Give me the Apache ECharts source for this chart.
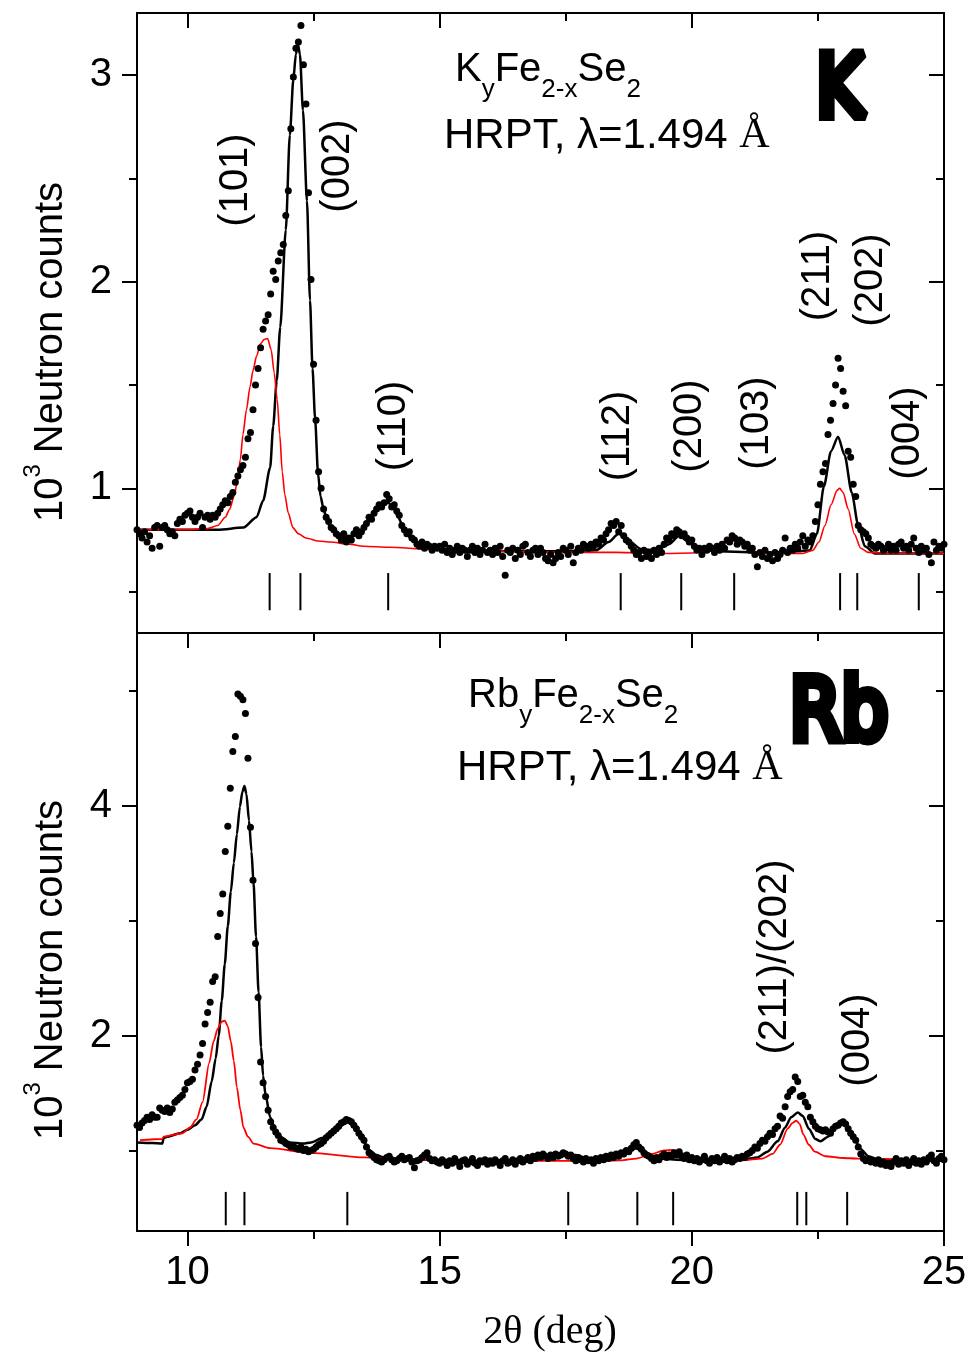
<!DOCTYPE html>
<html><head><meta charset="utf-8">
<script src="https://cdn.jsdelivr.net/npm/echarts@6/dist/echarts.min.js"></script>
<style>html,body{margin:0;padding:0;background:#fff}#c{width:973px;height:1354px}</style>
</head><body><div id="c"></div>
<script>
// ---------- DATA ----------
const TTH_START = 9.0;   // 2θ of first observed point (deg)
const TTH_STEP = 0.05;   // 2θ step of observed points (deg)

// K_yFe_{2-x}Se_2 observed counts (10^3), 9.00 .. 25.00
const K_OBS = [
 0.80,0.78,0.76,0.79,0.74,0.77,0.71,0.81,0.82,0.72,0.81,0.82,0.80,0.78,0.79,0.77,0.83,0.85,0.84,0.87,
 0.88,0.89,0.86,0.84,0.86,0.88,0.81,0.86,0.87,0.85,0.87,0.86,0.88,0.90,0.92,0.94,0.93,0.96,0.98,1.03,
 1.06,1.09,1.11,1.15,1.24,1.27,1.38,1.50,1.58,1.68,1.77,1.81,1.84,1.94,2.05,2.01,2.10,2.14,2.18,2.32,
 2.44,2.74,2.99,3.13,3.16,3.24,3.05,2.86,2.43,2.01,1.60,1.33,1.08,1.00,0.90,0.86,0.84,0.81,0.80,0.78,
 0.77,0.75,0.78,0.74,0.76,0.75,0.78,0.80,0.77,0.79,0.81,0.83,0.86,0.85,0.88,0.90,0.92,0.91,0.93,0.97,
 0.95,0.91,0.92,0.89,0.87,0.82,0.80,0.78,0.79,0.76,0.75,0.73,0.72,0.74,0.71,0.73,0.72,0.70,0.72,0.71,
 0.72,0.70,0.73,0.69,0.71,0.68,0.70,0.72,0.69,0.71,0.70,0.67,0.70,0.72,0.69,0.71,0.68,0.70,0.73,0.69,
 0.70,0.68,0.71,0.69,0.72,0.67,0.58,0.70,0.69,0.71,0.66,0.70,0.68,0.72,0.73,0.69,0.67,0.70,0.71,0.68,
 0.71,0.69,0.66,0.65,0.68,0.64,0.66,0.69,0.67,0.71,0.70,0.68,0.72,0.64,0.69,0.71,0.70,0.73,0.72,0.71,
 0.73,0.72,0.74,0.73,0.76,0.75,0.78,0.80,0.83,0.82,0.84,0.79,0.82,0.77,0.75,0.74,0.72,0.70,0.68,0.69,
 0.66,0.70,0.67,0.69,0.66,0.70,0.68,0.71,0.69,0.73,0.76,0.75,0.78,0.77,0.80,0.79,0.77,0.78,0.76,0.74,
 0.75,0.72,0.70,0.71,0.68,0.71,0.70,0.72,0.71,0.69,0.72,0.70,0.73,0.71,0.75,0.74,0.77,0.76,0.73,0.75,
 0.74,0.72,0.73,0.70,0.71,0.68,0.62,0.69,0.67,0.70,0.66,0.68,0.65,0.69,0.66,0.68,0.70,0.76,0.69,0.71,
 0.70,0.73,0.71,0.74,0.77,0.72,0.75,0.74,0.77,0.84,0.92,1.02,1.08,1.12,1.26,1.33,1.41,1.50,1.63,1.58,
 1.47,1.40,1.18,1.15,1.02,0.96,0.82,0.80,0.79,0.78,0.76,0.73,0.72,0.71,0.73,0.72,0.70,0.71,0.73,0.70,
 0.72,0.70,0.73,0.74,0.71,0.72,0.70,0.73,0.76,0.71,0.69,0.72,0.70,0.71,0.68,0.64,0.74,0.70,0.72,0.71,
 0.73
];
// K: calculated total (black) and magnetic (red) profiles [2θ, counts]
const K_CALC = [
 [9.0,0.80],[10.0,0.80],[10.6,0.80],[11.11,0.81],[11.37,0.86],[11.5,0.94],[11.64,1.10],[11.70,1.30],
 [11.77,1.52],[11.84,1.78],[11.95,2.25],[12.03,2.71],[12.1,2.98],[12.15,3.10],[12.19,3.15],[12.23,3.10],
 [12.29,2.83],[12.37,2.39],[12.43,1.91],[12.48,1.58],[12.53,1.34],[12.59,1.07],[12.64,0.96],[12.69,0.91],
 [12.76,0.85],[12.83,0.81],[12.95,0.775],[13.08,0.76],[13.22,0.765],[13.36,0.78],[13.5,0.81],[13.62,0.85],
 [13.75,0.89],[13.88,0.92],[13.98,0.93],[14.08,0.91],[14.18,0.86],[14.28,0.81],[14.4,0.765],[14.6,0.725],
 [14.8,0.71],[15.5,0.70],[16.5,0.695],[17.5,0.695],[18.1,0.70],[18.35,0.74],[18.55,0.78],[18.75,0.745],
 [19.0,0.705],[19.3,0.70],[19.55,0.73],[19.75,0.77],[19.95,0.74],[20.2,0.705],[20.5,0.695],[21.5,0.69],
 [22.1,0.695],[22.34,0.70],[22.48,0.78],[22.62,1.01],[22.76,1.18],[22.9,1.25],[23.03,1.16],[23.17,0.98],
 [23.3,0.82],[23.43,0.72],[23.63,0.685],[24.0,0.685],[25.0,0.685]
];
const K_MAG = [
 [9.0,0.80],[10.0,0.80],[10.4,0.805],[10.6,0.82],[10.75,0.86],[10.84,0.90],[10.92,0.96],[10.98,1.02],
 [11.05,1.14],[11.1,1.26],[11.17,1.38],[11.24,1.49],[11.3,1.57],[11.37,1.64],[11.45,1.70],[11.52,1.72],
 [11.59,1.725],[11.66,1.67],[11.72,1.56],[11.78,1.43],[11.83,1.26],[11.88,1.08],[11.93,0.97],[12.0,0.88],
 [12.09,0.81],[12.2,0.78],[12.35,0.76],[12.6,0.745],[12.83,0.74],[13.2,0.73],[13.5,0.72],[14.0,0.715],
 [14.8,0.705],[15.5,0.70],[16.5,0.695],[17.5,0.69],[18.5,0.69],[19.5,0.685],[20.0,0.687],[20.3,0.695],
 [20.5,0.715],[20.68,0.737],[20.82,0.745],[20.95,0.735],[21.1,0.715],[21.3,0.69],[21.5,0.685],[22.2,0.685],
 [22.4,0.70],[22.52,0.74],[22.64,0.82],[22.76,0.92],[22.88,0.99],[22.93,1.00],[23.0,0.98],[23.1,0.90],
 [23.22,0.78],[23.35,0.71],[23.5,0.69],[24.0,0.685],[25.0,0.685]
];
const K_BRAGG = [11.63, 12.24, 13.98, 18.59, 19.79, 20.84, 22.94, 23.28, 24.50];
const K_BRAGG_SPAN = [0.41, 0.59];

// Rb_yFe_{2-x}Se_2 observed counts (10^3), 9.00 .. 25.00
const RB_OBS = [
 1.22,1.20,1.24,1.26,1.29,1.27,1.31,1.29,1.29,1.37,1.35,1.34,1.37,1.33,1.36,1.42,1.44,1.46,1.48,1.53,
 1.59,1.60,1.62,1.70,1.75,1.83,1.93,2.10,2.20,2.29,2.47,2.51,2.86,3.06,3.23,3.60,3.82,4.15,4.47,4.60,
 4.97,4.95,4.92,4.80,4.41,3.81,3.35,2.80,2.33,1.77,1.59,1.47,1.35,1.25,1.20,1.16,1.13,1.09,1.08,1.06,
 1.05,1.03,1.04,1.02,1.01,1.03,1.00,1.01,0.99,1.00,1.01,1.03,1.05,1.06,1.08,1.11,1.13,1.15,1.17,1.19,
 1.21,1.24,1.25,1.27,1.26,1.25,1.22,1.19,1.15,1.12,1.09,1.03,0.98,0.96,0.94,0.92,0.91,0.90,0.92,0.94,
 0.95,0.92,0.90,0.91,0.93,0.95,0.92,0.93,0.94,0.90,0.85,0.91,0.92,0.94,0.96,0.98,0.93,0.91,0.92,0.90,
 0.89,0.92,0.90,0.87,0.91,0.89,0.93,0.90,0.86,0.91,0.92,0.88,0.90,0.93,0.89,0.87,0.91,0.90,0.92,0.88,
 0.91,0.89,0.92,0.90,0.87,0.91,0.93,0.89,0.90,0.92,0.88,0.91,0.93,0.90,0.92,0.94,0.91,0.95,0.93,0.96,
 0.94,0.97,0.95,0.93,0.96,0.94,0.97,0.95,0.96,0.98,0.97,0.95,0.96,0.93,0.91,0.94,0.92,0.90,0.93,0.91,
 0.92,0.89,0.93,0.91,0.94,0.92,0.95,0.93,0.96,0.94,0.97,0.95,0.98,0.97,1.00,0.99,1.02,1.05,1.07,1.03,
 1.01,0.98,0.96,0.95,0.93,0.91,0.94,0.92,0.95,0.97,0.94,0.96,0.95,0.98,0.96,0.99,0.95,0.93,0.96,0.92,
 0.94,0.91,0.93,0.90,0.92,0.95,0.91,0.89,0.93,0.91,0.94,0.90,0.92,0.95,0.91,0.93,0.90,0.92,0.94,0.93,
 0.95,0.94,0.97,0.98,1.00,1.03,1.02,1.06,1.09,1.08,1.12,1.15,1.14,1.19,1.21,1.30,1.28,1.38,1.47,1.51,
 1.53,1.64,1.60,1.47,1.48,1.42,1.38,1.29,1.25,1.21,1.19,1.18,1.17,1.18,1.16,1.15,1.19,1.21,1.22,1.24,
 1.25,1.23,1.19,1.15,1.12,1.09,1.03,0.97,0.93,0.91,0.92,0.90,0.91,0.89,0.92,0.88,0.90,0.87,0.89,0.86,
 0.90,0.93,0.88,0.91,0.89,0.92,0.87,0.90,0.93,0.89,0.91,0.88,0.92,0.90,0.94,0.96,0.91,0.89,0.93,0.95,
 0.92
];
const RB_CALC = [
 [9.0,1.07],[9.3,1.065],[9.5,1.06],[9.53,1.11],[9.6,1.12],[9.85,1.15],[10.0,1.18],[10.15,1.22],
 [10.28,1.27],[10.38,1.38],[10.48,1.60],[10.56,1.80],[10.62,2.0],[10.68,2.30],[10.74,2.62],[10.8,2.95],
 [10.86,3.25],[10.92,3.50],[10.98,3.75],[11.04,3.99],[11.09,4.12],[11.13,4.17],[11.17,4.10],[11.22,3.87],
 [11.27,3.60],[11.31,3.33],[11.36,2.86],[11.41,2.38],[11.46,1.90],[11.5,1.65],[11.55,1.48],[11.64,1.29],
 [11.74,1.18],[11.84,1.12],[12.03,1.07],[12.3,1.06],[12.45,1.07],[12.69,1.11],[12.96,1.18],[13.1,1.23],
 [13.18,1.25],[13.3,1.21],[13.42,1.14],[13.52,1.06],[13.62,1.00],[13.75,0.96],[13.88,0.94],[14.15,0.93],
 [14.8,0.92],[16.0,0.91],[16.9,0.92],[17.25,0.95],[17.5,0.97],[17.7,0.96],[17.95,0.93],[18.3,0.92],
 [18.6,0.95],[18.9,1.02],[19.1,0.98],[19.35,0.93],[19.7,0.92],[20.5,0.91],[21.0,0.92],[21.3,0.94],
 [21.5,0.99],[21.7,1.08],[21.85,1.20],[21.97,1.29],[22.1,1.33],[22.2,1.30],[22.32,1.19],[22.45,1.10],
 [22.55,1.08],[22.7,1.12],[22.85,1.20],[22.98,1.24],[23.1,1.20],[23.2,1.12],[23.35,1.01],[23.5,0.95],
 [23.7,0.92],[24.0,0.91],[25.0,0.91]
];
const RB_MAG = [
 [9.06,1.09],[9.5,1.10],[9.53,1.12],[9.9,1.15],[10.05,1.20],[10.18,1.27],[10.3,1.42],[10.43,1.76],
 [10.52,1.95],[10.6,2.06],[10.68,2.12],[10.74,2.13],[10.8,2.08],[10.86,1.95],[10.92,1.78],[10.98,1.55],
 [11.05,1.35],[11.11,1.20],[11.2,1.12],[11.31,1.06],[11.64,1.02],[12.43,0.98],[13.5,0.94],[14.8,0.92],
 [16.0,0.91],[18.0,0.91],[18.6,0.915],[18.9,0.93],[19.2,0.97],[19.45,1.0],[19.62,1.005],[19.8,0.98],
 [20.0,0.93],[20.2,0.915],[21.0,0.915],[21.4,0.93],[21.6,0.97],[21.75,1.05],[21.9,1.19],[22.0,1.24],
 [22.07,1.26],[22.14,1.23],[22.21,1.14],[22.32,1.05],[22.44,0.99],[22.65,0.95],[23.0,0.935],[23.3,0.93],
 [25.0,0.92]
];
const RB_BRAGG = [10.76, 11.13, 13.17, 17.55, 18.92, 19.63, 22.09, 22.27, 23.08];
const RB_BRAGG_SPAN = [0.35, 0.64];

const X_MAJOR = [10, 15, 20, 25];
const X_MINOR = [12.5, 17.5, 22.5];
const K_Y_MAJOR = [1, 2, 3], K_Y_MINOR = [0.5, 1.5, 2.5];
const RB_Y_MAJOR = [2, 4], RB_Y_MINOR = [1, 3, 5];
const K_PEAKS = ['(101)','(002)','(110)','(112)','(200)','(103)','(211)','(202)','(004)'];
const RB_PEAKS = ['(211)/(202)','(004)'];

// ---------- CHART ----------
const SANS = '"Liberation Sans", Arial, sans-serif';
const SERIF = '"Liberation Serif", "Times New Roman", serif';
const obsPairs = arr => arr.map((v, i) => [+(TTH_START + i * TTH_STEP).toFixed(2), v]);

const GRIDS = [
  {left: 137, top: 13, width: 807, height: 620},
  {left: 137, top: 633, width: 807, height: 598}
];
const Y_RANGE = [[0.3, 3.3], [0.3, 5.5]];

const xAxes = [], yAxes = [];
function xAx(g, pos, values, len, inside, showLine, labels) {
  xAxes.push({
    type: 'value', gridIndex: g, position: pos, min: 9, max: 25,
    splitLine: {show: false},
    axisLine: {show: showLine, onZero: false, lineStyle: {color: '#000', width: 2}},
    axisTick: values ? {show: true, customValues: values, length: len, inside: inside, lineStyle: {color: '#000', width: 2}} : {show: false},
    axisLabel: labels ? {show: true, customValues: labels, margin: 22, color: '#000', fontSize: 40, fontFamily: SANS} : {show: false}
  });
  return xAxes.length - 1;
}
function yAx(g, pos, values, len, inside, showLine, labels) {
  yAxes.push({
    type: 'value', gridIndex: g, position: pos, min: Y_RANGE[g][0], max: Y_RANGE[g][1],
    splitLine: {show: false},
    axisLine: {show: showLine, onZero: false, lineStyle: {color: '#000', width: 2}},
    axisTick: {show: true, customValues: values, length: len, inside: inside, lineStyle: {color: '#000', width: 2}},
    axisLabel: labels ? {show: true, customValues: labels, margin: 25, color: '#000', fontSize: 40, fontFamily: SANS} : {show: false}
  });
  return yAxes.length - 1;
}
// top panel
const kx = xAx(0, 'bottom', null, 0, false, true, null);
xAx(0, 'top', X_MAJOR, 15, true, true, null);
xAx(0, 'top', X_MINOR, 8, true, false, null);
const ky = yAx(0, 'left', K_Y_MAJOR, 15, false, true, K_Y_MAJOR);
yAx(0, 'left', K_Y_MINOR, 8, false, false, null);
yAx(0, 'right', K_Y_MAJOR, 15, true, true, null);
yAx(0, 'right', K_Y_MINOR, 8, true, false, null);
// bottom panel
const rx = xAx(1, 'bottom', X_MAJOR, 15, false, true, X_MAJOR);
xAx(1, 'bottom', X_MINOR, 8, false, false, null);
xAx(1, 'top', X_MAJOR, 15, true, true, null);
xAx(1, 'top', X_MINOR, 8, true, false, null);
const ry = yAx(1, 'left', RB_Y_MAJOR, 15, false, true, RB_Y_MAJOR);
yAx(1, 'left', RB_Y_MINOR, 8, false, false, null);
yAx(1, 'right', RB_Y_MAJOR, 15, true, true, null);
yAx(1, 'right', RB_Y_MINOR, 8, true, false, null);

function braggSeries(xi, yi, pos, span) {
  return {
    type: 'custom', xAxisIndex: xi, yAxisIndex: yi, silent: true, z: 3,
    data: pos.map(x => [x, span[0], span[1]]),
    encode: {x: 0, y: [1, 2]},
    renderItem: (params, api) => {
      const a = api.coord([api.value(0), api.value(1)]);
      const b = api.coord([api.value(0), api.value(2)]);
      return {type: 'line', shape: {x1: a[0], y1: a[1], x2: b[0], y2: b[1]},
              style: {stroke: '#000', lineWidth: 2}};
    }
  };
}
function lineSeries(xi, yi, data, color, w, z) {
  return {type: 'line', xAxisIndex: xi, yAxisIndex: yi, data: data, showSymbol: false, symbol: 'none',
          smooth: 0.25, smoothMonotone: 'x', lineStyle: {color: color, width: w}, z: z, silent: true};
}
function obsSeries(xi, yi, arr) {
  return {type: 'scatter', xAxisIndex: xi, yAxisIndex: yi, data: obsPairs(arr), symbolSize: 7,
          itemStyle: {color: '#000', opacity: 1}, z: 5, silent: true};
}

const series = [
  lineSeries(kx, ky, K_CALC, '#000', 2.5, 2),
  lineSeries(kx, ky, K_MAG, '#ff0000', 1.6, 3),
  obsSeries(kx, ky, K_OBS),
  braggSeries(kx, ky, K_BRAGG, K_BRAGG_SPAN),
  lineSeries(rx, ry, RB_CALC, '#000', 2.5, 2),
  lineSeries(rx, ry, RB_MAG, '#ff0000', 1.8, 3),
  obsSeries(rx, ry, RB_OBS),
  braggSeries(rx, ry, RB_BRAGG, RB_BRAGG_SPAN)
];

// ---------- TEXT ----------
const PEAK_LABEL_POS_K = [[236,180],[338,166],[394,426],[618,436],[690,426],[757,423],[818,276],[871,280],[908,433]];
const PEAK_LABEL_POS_RB = [[775,957],[858,1040]];
const graphics = [];
function rotLabel(txt, p) {
  graphics.push({type: 'text', x: p[0], y: p[1], rotation: Math.PI / 2, z: 10,
    style: {text: txt, font: '40px ' + SANS, fill: '#000', align: 'center', verticalAlign: 'middle'}});
}
K_PEAKS.forEach((t, i) => rotLabel(t, PEAK_LABEL_POS_K[i]));
RB_PEAKS.forEach((t, i) => rotLabel(t, PEAK_LABEL_POS_RB[i]));

function yTitle(y) {
  graphics.push({type: 'text', x: 46, y: y, rotation: Math.PI / 2, z: 10,
    style: {text: '{m|10}{sup|3}{m| Neutron counts}', align: 'center', verticalAlign: 'middle',
      rich: {
        m: {fontSize: 40, fontFamily: SANS, lineHeight: 50, verticalAlign: 'bottom', fill: '#000'},
        sup: {fontSize: 24, fontFamily: SANS, lineHeight: 24, verticalAlign: 'top', fill: '#000'}
      }}});
}
yTitle(352); yTitle(970);

graphics.push({type: 'text', x: 550, y: 1332, z: 10,
  style: {text: '2θ (deg)', font: '40px ' + SERIF, fill: '#000', align: 'center', verticalAlign: 'middle'}});

const FORM_RICH = {
  m: {fontSize: 40, fontFamily: SANS, lineHeight: 40, verticalAlign: 'top', fill: '#000'},
  s: {fontSize: 26, fontFamily: SANS, lineHeight: 26, verticalAlign: 'top', padding: [27, 0, 0, 0], fill: '#000'}
};
function formula(el, x, y) {
  graphics.push({type: 'text', x: x, y: y, z: 10,
    style: {text: '{m|' + el + '}{s|y}{m|Fe}{s|2-x}{m|Se}{s|2}', rich: FORM_RICH, align: 'left', verticalAlign: 'top'}});
}
function hrpt(x, y) {
  graphics.push({type: 'text', x: x, y: y, z: 10,
    style: {text: 'HRPT, λ=1.494 {a|Å}', font: '42px ' + SANS, fill: '#000', align: 'left', verticalAlign: 'middle',
      rich: {a: {fontSize: 42, fontFamily: SERIF, fill: '#000'}}}});
}
function bigLabel(txt, x, y, size, sx) {
  graphics.push({type: 'text', x: x, y: y, scaleX: sx, z: 10,
    style: {text: txt, font: size + 'px "DejaVu Sans", sans-serif', fill: '#000', stroke: '#000',
      lineWidth: 10, lineJoin: 'round', lineCap: 'round', align: 'center', verticalAlign: 'middle'}});
}
formula('K', 455, 50);
hrpt(444, 136);
bigLabel('K', 840, 94, 86, 0.85);
formula('Rb', 468, 676);
hrpt(457, 768);
bigLabel('Rb', 839, 717, 86, 0.86);

const chart = echarts.init(document.getElementById('c'), null, {renderer: 'canvas'});
chart.setOption({
  animation: false,
  backgroundColor: '#fff',
  textStyle: {fontFamily: SANS},
  grid: GRIDS.map(g => Object.assign({containLabel: false, outerBoundsMode: 'none', show: false}, g)),
  xAxis: xAxes,
  yAxis: yAxes,
  series: series,
  graphic: {elements: graphics}
});
</script>
</body></html>
